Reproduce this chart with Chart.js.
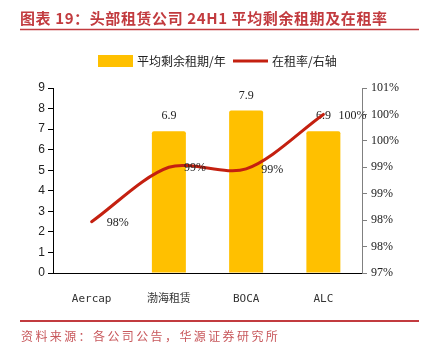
<!DOCTYPE html>
<html><head><meta charset="utf-8">
<script src="https://cdn.jsdelivr.net/npm/chart.js@4.4.0/dist/chart.umd.min.js"></script>
<style>html,body{margin:0;padding:0;background:#fff;}#wrap{width:422px;height:351px;}</style>
</head><body><div id="wrap"><canvas id="c" width="422" height="351"></canvas></div>
<script>
const categories = ['Aercap', '渤海租赁', 'BOCA', 'ALC'];
const leaseTerm = [null, 6.9, 7.9, 6.9];
const occupancy = [0.9797, 0.990, 0.9897, 1.000];
const occupancyLabels = ['98%', '99%', '99%', '100%'];
const leftTicks = ['0','1','2','3','4','5','6','7','8','9'];
const rightTicks = ['97%','98%','98%','99%','99%','100%','100%','101%'];
const titleText = '图表 19：头部租赁公司 24H1 平均剩余租期及在租率';
const sourceText = '资料来源：各公司公告，华源证券研究所';
const legendBar = '平均剩余租期/年';
const legendLine = '在租率/右轴';

const RED = '#C23B3F';
const BAR = '#FFC000';
const LINE = '#C42010';
const SERIF = '"Liberation Serif", "Noto Sans CJK SC", serif';
const CJK = '"Noto Sans CJK SC", sans-serif';

const deco = {
  id: 'deco',
  afterDatasetDraw(chart, args) {
    if (args.index !== 1) return;
    const ctx = chart.ctx;
    const meta = chart.getDatasetMeta(1);
    ctx.save();
    ctx.font = '12px ' + SERIF;
    ctx.fillStyle = '#222';
    ctx.textAlign = 'center';
    ctx.textBaseline = 'middle';
    meta.data.forEach((el, i) => {
      if (leaseTerm[i] == null) return;
      ctx.fillText(leaseTerm[i].toFixed(1), el.x, el.y - 15);
    });
    ctx.restore();
  },
  afterDatasetsDraw(chart) {
    const ctx = chart.ctx;
    const meta = chart.getDatasetMeta(0);
    ctx.save();
    ctx.font = '12px ' + SERIF;
    ctx.fillStyle = '#222';
    ctx.textAlign = 'left';
    ctx.textBaseline = 'middle';
    meta.data.forEach((el, i) => {
      ctx.fillText(occupancyLabels[i], el.x + 15, el.y + 1);
    });
    ctx.restore();
  },
  afterDraw(chart) {
    const ctx = chart.ctx;
    ctx.save();
    // title
    ctx.fillStyle = RED;
    ctx.font = 'bold 15px ' + CJK;
    ctx.textBaseline = 'middle';
    ctx.textAlign = 'left';
    try { ctx.letterSpacing = '0.6px'; } catch (e) {}
    ctx.fillText(titleText, 20, 18);
    ctx.strokeStyle = RED;
    ctx.lineWidth = 1.5;
    ctx.beginPath(); ctx.moveTo(20, 29.5); ctx.lineTo(419, 29.5); ctx.stroke();
    // footer
    ctx.lineWidth = 2;
    ctx.beginPath(); ctx.moveTo(20, 321); ctx.lineTo(419, 321); ctx.stroke();
    ctx.font = '12px ' + CJK;
    try { ctx.letterSpacing = '2.4px'; } catch (e) {}
    ctx.fillStyle = '#C8585C';
    ctx.fillText(sourceText, 21, 336);
    try { ctx.letterSpacing = '0px'; } catch (e) {}
    // legend
    ctx.fillStyle = BAR;
    ctx.fillRect(98, 55, 35, 12);
    ctx.fillStyle = '#222';
    ctx.font = '12px ' + CJK;
    ctx.fillText(legendBar, 137, 61);
    ctx.strokeStyle = LINE;
    ctx.lineWidth = 3;
    ctx.beginPath(); ctx.moveTo(233, 61); ctx.lineTo(268, 61); ctx.stroke();
    ctx.fillText(legendLine, 272, 61);
    ctx.restore();
  }
};

new Chart(document.getElementById('c'), {
  data: {
    labels: categories,
    datasets: [
      {
        type: 'line', label: legendLine, data: occupancy, yAxisID: 'y1',
        borderColor: LINE, borderWidth: 3, pointRadius: 0, tension: 0.3,
        borderCapStyle: 'round', fill: false, order: 0
      },
      {
        type: 'bar', label: legendBar, data: leaseTerm, yAxisID: 'y',
        backgroundColor: BAR, barPercentage: 0.44, categoryPercentage: 1,
        borderRadius: 2, borderSkipped: 'bottom', order: 1
      }
    ]
  },
  options: {
    responsive: false, animation: false,
    layout: { padding: { top: 88, left: 0, right: 0, bottom: 0 } },
    plugins: { legend: { display: false }, tooltip: { enabled: false }, title: { display: false } },
    scales: {
      x: {
        offset: true,
        grid: { display: false },
        border: { display: true, color: '#000', width: 1 },
        ticks: { color: '#333', padding: 12, font: { family: '"DejaVu Sans Mono", "Noto Sans CJK SC", monospace', size: 11 }, maxRotation: 0 },
        afterFit: (s) => { s.height = 78; }
      },
      y: {
        position: 'left', min: 0, max: 9,
        ticks: { stepSize: 1, color: '#222', padding: 3, font: { family: '"Liberation Sans", sans-serif', size: 12 },
          callback: (v, i) => leftTicks[i] },
        grid: { display: true, drawOnChartArea: false, drawTicks: true, tickLength: 5, color: '#000' },
        border: { display: true, color: '#000', width: 1 },
        afterFit: (s) => { s.width = 53; }
      },
      y1: {
        position: 'right', min: 0.97, max: 1.005,
        ticks: { stepSize: 0.005, color: '#222', padding: 4, font: { family: SERIF, size: 12 },
          callback: (v, i) => rightTicks[i] },
        grid: { display: true, drawOnChartArea: false, drawTicks: true, tickLength: 5, color: '#808080' },
        border: { display: true, color: '#808080', width: 1 },
        afterFit: (s) => { s.width = 60; }
      }
    }
  },
  plugins: [deco]
});
</script>
</body></html>
